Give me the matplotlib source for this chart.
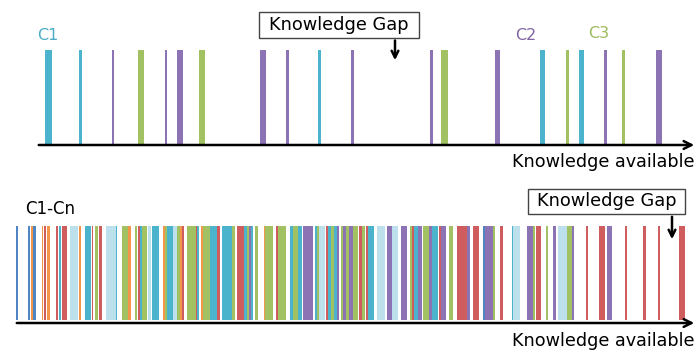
import matplotlib.pyplot as plt
from matplotlib.patches import Rectangle

plt.rcParams['font.family'] = ['DejaVu Sans']

colors = {'c': '#4BB3CC', 'p': '#8C74B4', 'g': '#A2C163', 'r': '#CF5D5D',
          'o': '#F4964A', 'b': '#4F85C2', 'l': '#BCE1EC'}

# top panel: bar centre, width, colour code
top_x = [48, 80, 113, 141, 166, 180, 202, 263, 287, 319, 352, 431, 444, 497,
         542, 567, 581, 605, 623, 659]
top_w = [7, 3, 2.5, 6, 2.5, 6, 6, 6, 3, 3, 3, 3, 7, 5, 5, 3, 5, 3, 3, 6]
top_c = ['c', 'c', 'p', 'g', 'p', 'p', 'g', 'p', 'p', 'c',
         'p', 'p', 'g', 'p', 'c', 'g', 'c', 'p', 'g', 'p']

# bottom panel: bar left edge, right edge, colour code
bot_left = [16, 28.3, 30.7, 33.3, 41.7, 44, 46.7, 56, 59, 61.7,
            70, 78.7, 85, 91.7, 95, 99, 106, 116, 121.7, 128.3,
            135, 138.3, 140, 141.7, 148.3, 152.3, 163.3, 165, 166.7, 173.3,
            176.7, 180, 182.3, 186.7, 195.7, 197.3, 200.7, 203.3, 210, 216.7,
            221.7, 231.7, 236.7, 244, 246.7, 249.3, 251, 255, 264, 265,
            276, 278.3, 290, 293.3, 298.3, 303.3, 315, 317.3, 319.3, 326,
            328.3, 331, 334, 336.7, 341, 343, 346, 349, 353.3, 359,
            361.7, 365.7, 368.3, 376.7, 386.7, 391.7, 401, 410, 412.3, 414,
            418.3, 423.3, 429, 432.3, 439, 441, 449, 456.7, 466.7, 473.3,
            483.3, 485, 493.3, 500, 511.7, 513.3, 526.7, 532.7, 535.7, 546,
            553.3, 558.3, 567.3, 571.7, 586, 599, 606.7, 625, 643.3, 657.7, 679]
bot_right = [18.3, 30, 32.7, 35.7, 43.3, 46, 50, 58.3, 61, 66.7,
             78.3, 80.7, 91, 93.3, 98.3, 101.7, 116, 117.3, 128.3, 131,
             136.7, 140, 141.7, 146.7, 151, 159.3, 165, 166.7, 172.7, 176.7,
             180, 181.7, 184.3, 195.7, 197.3, 199, 203.3, 210, 216.7, 220,
             231.7, 235, 244, 246.7, 249.3, 251, 253.3, 258.3, 265, 273.3,
             278.3, 286, 293.3, 298.3, 301.7, 312.7, 317.3, 319.3, 325, 328.3,
             331, 334, 336.7, 339.3, 343, 346, 349, 353, 358.3, 361.7,
             365, 368.3, 374.3, 385, 391.7, 398.3, 407.3, 412.3, 414, 418.3,
             421.7, 429, 432.3, 437.7, 441, 445.7, 453.3, 466.7, 470, 479.3,
             485, 493.3, 495, 502.7, 513.3, 520, 532.7, 535, 541, 548.3,
             555.7, 566.7, 571.7, 574, 588.3, 605, 612.3, 627.3, 646, 660, 685]
bot_c = ['b', 'b', 'o', 'b', 'o', 'r', 'o', 'r', 'c', 'r',
         'l', 'o', 'c', 'r', 'g', 'r', 'l', 'c', 'g', 'o',
         'g', 'r', 'c', 'g', 'l', 'c', 'o', 'g', 'c', 'l',
         'g', 'o', 'r', 'g', 'r', 'c', 'o', 'g', 'c', 'r',
         'c', 'g', 'r', 'c', 'g', 'p', 'c', 'g', 'o', 'g',
         'r', 'g', 'c', 'g', 'c', 'p', 'c', 'g', 'l', 'r',
         'c', 'g', 'c', 'p', 'g', 'p', 'g', 'p', 'g', 'r',
         'g', 'r', 'c', 'l', 'p', 'l', 'p', 'g', 'r', 'c',
         'p', 'g', 'p', 'c', 'r', 'p', 'g', 'r', 'p', 'r',
         'b', 'p', 'g', 'r', 'c', 'l', 'p', 'g', 'r', 'g',
         'p', 'l', 'g', 'p', 'r', 'r', 'p', 'r', 'r', 'r', 'r']

fig = plt.figure(figsize=(6.97, 3.51), dpi=100)

# ---- top panel ----
ax1 = fig.add_axes([0, 1 - 175 / 351, 1, 175 / 351])
ax1.set_xlim(0, 697)
ax1.set_ylim(-30, 145)
ax1.axis('off')
ax1.bar(top_x, 95, width=top_w, bottom=0, color=[colors[k] for k in top_c])
ax1.annotate('', xy=(697, 0), xytext=(36, 0),
             arrowprops=dict(arrowstyle='->', lw=1.8, color='black', mutation_scale=14))
ax1.text(603, -17, 'Knowledge available', fontsize=12.7, ha='center', va='center')
ax1.text(47.5, 109, 'C1', color='#4BACC6', fontsize=11.5, ha='center', va='center')
ax1.text(526, 110, 'C2', color='#8064A2', fontsize=11.5, ha='center', va='center')
ax1.text(598.5, 112, 'C3', color='#9BBB59', fontsize=11.5, ha='center', va='center')
ax1.add_patch(Rectangle((259, 107.3), 160, 26, fc='white', ec='#444444', lw=1))
ax1.text(339, 120.3, 'Knowledge Gap', fontsize=12.8, ha='center', va='center')
ax1.annotate('', xy=(395, 82), xytext=(395, 107.3),
             arrowprops=dict(arrowstyle='->', lw=1.8, color='black', mutation_scale=12))

# ---- bottom panel ----
ax2 = fig.add_axes([0, 0, 1, 176 / 351])
ax2.set_xlim(0, 697)
ax2.set_ylim(-28, 148)
ax2.axis('off')
widths = [r - l for l, r in zip(bot_left, bot_right)]
ax2.bar(bot_left, 94, width=widths, bottom=3, align='edge',
        color=[colors[k] for k in bot_c])
ax2.annotate('', xy=(697, 0), xytext=(14, 0),
             arrowprops=dict(arrowstyle='->', lw=1.8, color='black', mutation_scale=14))
ax2.text(603, -18, 'Knowledge available', fontsize=12.7, ha='center', va='center')
ax2.text(50.5, 114, 'C1-Cn', fontsize=12, ha='center', va='center')
ax2.add_patch(Rectangle((528, 109), 157, 25, fc='white', ec='#444444', lw=1))
ax2.text(606.5, 121.5, 'Knowledge Gap', fontsize=12.8, ha='center', va='center')
ax2.annotate('', xy=(672, 81), xytext=(672, 109),
             arrowprops=dict(arrowstyle='->', lw=1.8, color='black', mutation_scale=12))

fig.savefig('out.png', dpi=100)
